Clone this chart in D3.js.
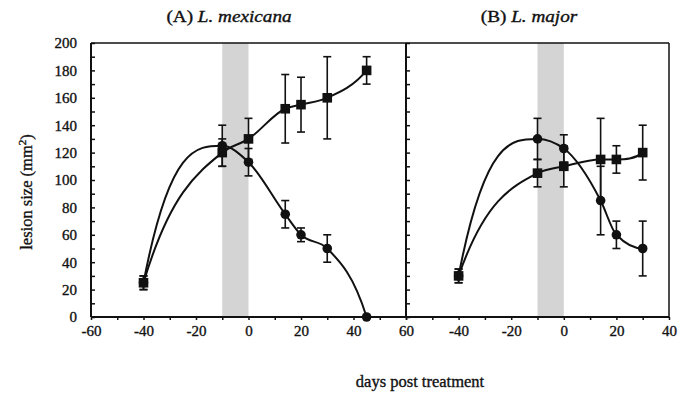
<!DOCTYPE html>
<html>
<head>
<meta charset="utf-8">
<script src="https://cdn.jsdelivr.net/npm/d3@7"></script>
<style>
  body { margin: 0; background: #fff; }
  text { font-family: "Liberation Serif", "DejaVu Serif", serif; fill: #111; stroke: #111; stroke-width: 0.35px; }
</style>
</head>
<body>
<div class="container"></div>
<script>
// (A) L. mexicana
var daysA = [-40, -10, 0, 14, 20, 30, 45];
var squaresA = [25, 120, 130, 152, 155, 160, 180];
var squaresAErr = [5, 10, 15, 25, 20, 30, 10];
var circlesA = [25, 125, 113, 75, 60, 50, 0];
var circlesAErr = [5, 15, 10, 10, 5, 10, 0];

// (B) L. major
var daysB = [-40, -10, 0, 14, 20, 30];
var squaresB = [30, 105, 110, 115, 115, 120];
var squaresBErr = [5, 10, 15, 30, 10, 20];
var circlesB = [30, 130, 123, 85, 60, 50];
var circlesBErr = [5, 15, 10, 25, 10, 20];

// treatment window
var treatment = [-10, 0];

var yTicks = [0, 20, 40, 60, 80, 100, 120, 140, 160, 180, 200];
var xTicksA = [-60, -40, -20, 0, 20, 40, 60];
var xTicksB = [-40, -20, 0, 20, 40];

var width = 687,
    height = 396,
    plotTop = 43,
    plotBottom = 317;

var svg = d3.select(".container").append("svg")
    .attr("width", width)
    .attr("height", height);

var y = d3.scaleLinear().domain([0, 200]).range([plotBottom, plotTop]);
var xA = d3.scaleLinear().domain([-60, 60]).range([91, 406]);
var xB = d3.scaleLinear().domain([-60, 40]).range([406, 669]);

// plain hyphen for negatives, like the original
var fmt = function(d) { return String(d); };

// Smooth curve through the points: monotone tangents inside,
// steeper end tangents (the original plot rises sharply from day -40)
function curveSmooth(context) { return new SmoothCurve(context); }
function SmoothCurve(context) { this._context = context; }
SmoothCurve.prototype = {
  areaStart: function() {},
  areaEnd: function() {},
  lineStart: function() { this._x = []; this._y = []; },
  point: function(x, y) { this._x.push(+x); this._y.push(+y); },
  lineEnd: function() {
    var xs = this._x, ys = this._y, n = xs.length, c = this._context;
    if (!n) return;
    c.moveTo(xs[0], ys[0]);
    if (n < 3) { if (n == 2) c.lineTo(xs[1], ys[1]); return; }
    var s = [], t = [], i;
    for (i = 0; i < n - 1; i++) s.push((ys[i + 1] - ys[i]) / (xs[i + 1] - xs[i]));
    for (i = 1; i < n - 1; i++) {
      var h0 = xs[i] - xs[i - 1], h1 = xs[i + 1] - xs[i];
      var p = (s[i - 1] * h1 + s[i] * h0) / (h0 + h1);
      t[i] = (Math.sign(s[i - 1] || 1) + Math.sign(s[i] || 1)) *
        Math.min(Math.abs(s[i - 1]), Math.abs(s[i]), 0.5 * Math.abs(p)) || 0;
    }
    function endTangent(sl, tn) {
      var m = 3 * sl - 2 * tn;
      if (m * sl <= 0) return 0;
      if (Math.abs(m) > 3 * Math.abs(sl)) m = 3 * sl;
      return m;
    }
    t[0] = endTangent(s[0], t[1]);
    t[n - 1] = endTangent(s[n - 2], t[n - 2]);
    for (i = 0; i < n - 1; i++) {
      var dx = (xs[i + 1] - xs[i]) / 3;
      c.bezierCurveTo(xs[i] + dx, ys[i] + dx * t[i],
                      xs[i + 1] - dx, ys[i + 1] - dx * t[i + 1],
                      xs[i + 1], ys[i + 1]);
    }
  }
};

// ---------- one panel ----------
function panel(x, days, sq, sqErr, ci, ciErr) {
  var g = svg.append("g");

  g.append("rect")
    .attr("x", x(treatment[0]))
    .attr("y", plotTop)
    .attr("width", x(treatment[1]) - x(treatment[0]))
    .attr("height", plotBottom - plotTop)
    .attr("fill", "#d4d4d4");

  var line = d3.line()
    .curve(curveSmooth)
    .x(function(d) { return x(d[0]); })
    .y(function(d) { return y(d[1]); });

  [sq, ci].forEach(function(vals) {
    g.append("path")
      .datum(d3.zip(days, vals))
      .attr("d", line)
      .attr("fill", "none")
      .attr("stroke", "#111")
      .attr("stroke-width", 2);
  });

  // error bars
  [[sq, sqErr], [ci, ciErr]].forEach(function(s) {
    var rows = d3.zip(days, s[0], s[1]).filter(function(d) { return d[2] > 0; });
    var eb = g.selectAll(null).data(rows).enter().append("g")
      .attr("stroke", "#111").attr("stroke-width", 1.6);
    eb.append("line")
      .attr("x1", function(d) { return x(d[0]); })
      .attr("x2", function(d) { return x(d[0]); })
      .attr("y1", function(d) { return y(d[1] - d[2]); })
      .attr("y2", function(d) { return y(d[1] + d[2]); });
    [-1, 1].forEach(function(sign) {
      eb.append("line")
        .attr("x1", function(d) { return x(d[0]) - 4; })
        .attr("x2", function(d) { return x(d[0]) + 4; })
        .attr("y1", function(d) { return y(d[1] + sign * d[2]); })
        .attr("y2", function(d) { return y(d[1] + sign * d[2]); });
    });
  });

  g.selectAll(null).data(d3.zip(days, ci)).enter().append("circle")
    .attr("cx", function(d) { return x(d[0]); })
    .attr("cy", function(d) { return y(d[1]); })
    .attr("r", 4.8)
    .attr("fill", "#111");

  g.selectAll(null).data(d3.zip(days, sq)).enter().append("rect")
    .attr("x", function(d) { return x(d[0]) - 4.8; })
    .attr("y", function(d) { return y(d[1]) - 4.8; })
    .attr("width", 9.6)
    .attr("height", 9.6)
    .attr("fill", "#111");

  // y axis with inner ticks (every 10)
  g.append("g")
    .attr("transform", "translate(" + x.range()[0] + ",0)")
    .call(d3.axisRight(y).ticks(20).tickSize(4).tickFormat(""))
    .call(function(a) {
      a.select(".domain").remove();
      a.selectAll("line").attr("stroke", "#111").attr("stroke-width", 1.5);
    });
  g.append("line")
    .attr("x1", x.range()[0]).attr("x2", x.range()[0])
    .attr("y1", plotTop).attr("y2", plotBottom)
    .attr("stroke", "#111").attr("stroke-width", 2);
}

panel(xA, daysA, squaresA, squaresAErr, circlesA, circlesAErr);
panel(xB, daysB, squaresB, squaresBErr, circlesB, circlesBErr);

// y tick labels (left panel only)
svg.append("g")
  .attr("transform", "translate(91,0)")
  .call(d3.axisLeft(y).tickValues(yTicks).tickSize(0).tickPadding(14).tickFormat(fmt))
  .call(function(a) {
    a.select(".domain").remove();
    a.selectAll("text").style("font-family", "Liberation Serif").style("font-size", "15px").attr("fill", "#111");
  });

// x axes
function xAxis(x, ticks) {
  var g = svg.append("g").attr("transform", "translate(0," + plotBottom + ")");
  g.append("g")
    .call(d3.axisBottom(x).ticks((x.domain()[1] - x.domain()[0]) / 10).tickSize(3).tickFormat(""))
    .call(function(a) {
      a.select(".domain").remove();
      a.selectAll("line").attr("stroke", "#111").attr("stroke-width", 1.5);
    });
  g.append("g")
    .call(d3.axisBottom(x).tickValues(ticks).tickSize(0).tickPadding(8).tickFormat(fmt))
    .call(function(a) {
      a.select(".domain").remove();
      a.selectAll("text").style("font-family", "Liberation Serif").style("font-size", "15px").attr("fill", "#111");
    });
}
xAxis(xA, xTicksA);
xAxis(xB, xTicksB);

// frame
svg.append("line").attr("x1", 91).attr("x2", 669).attr("y1", plotBottom).attr("y2", plotBottom)
  .attr("stroke", "#111").attr("stroke-width", 2);
svg.append("line").attr("x1", 91).attr("x2", 669).attr("y1", plotTop).attr("y2", plotTop)
  .attr("stroke", "#111").attr("stroke-width", 1.5);
svg.append("line").attr("x1", 669).attr("x2", 669).attr("y1", plotTop).attr("y2", plotBottom)
  .attr("stroke", "#111").attr("stroke-width", 1.5);

// titles (the scanned original is a little wide)
function title(cx, letter, name) {
  var t = svg.append("g")
    .attr("transform", "translate(" + cx + ",22) scale(1.2,1)")
    .append("text")
    .attr("text-anchor", "middle")
    .style("font-size", "16px");
  t.append("tspan").text(letter + " ");
  t.append("tspan").style("font-style", "italic").text(name);
}
title(229, "(A)", "L. mexicana");
title(529, "(B)", "L. major");

var yl = svg.append("text")
  .attr("transform", "translate(32,192) rotate(-90)")
  .attr("text-anchor", "middle")
  .style("font-size", "16.5px");
yl.append("tspan").text("lesion size (mm");
yl.append("tspan").attr("baseline-shift", "super").style("font-size", "11px").text("2");
yl.append("tspan").text(")");

svg.append("text")
  .attr("x", 420).attr("y", 387)
  .attr("text-anchor", "middle")
  .style("font-size", "16.5px")
  .text("days post treatment");
</script>
</body>
</html>
